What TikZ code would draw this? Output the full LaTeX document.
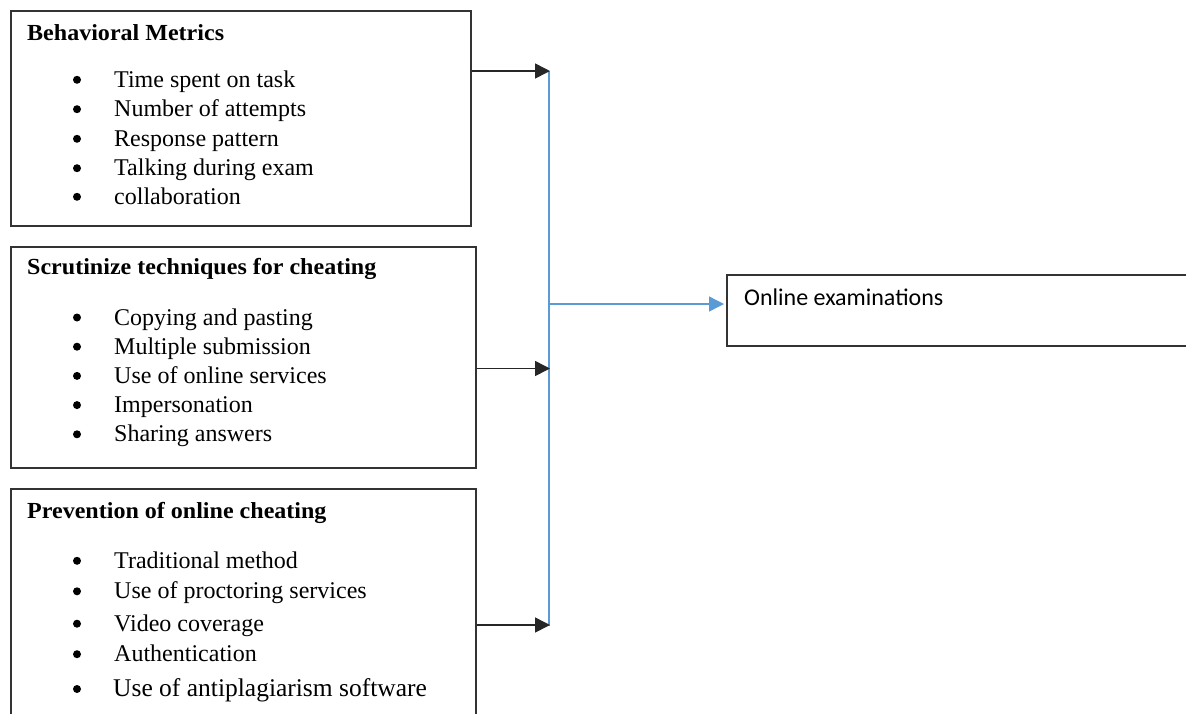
\documentclass[tikz,border=0pt]{standalone}
\usepackage{fontspec}
\setmainfont{Liberation Serif}
\newfontfamily\headfont{Liberation Serif Bold}[FakeStretch=1.045]
\newfontfamily\calibrifont{Carlito}
\usetikzlibrary{arrows.meta}
\definecolor{busblue}{RGB}{91,155,213}
\tikzstyle{box} = [draw=black!80, line width=1.5pt, anchor=north west, inner sep=0pt]
\tikzstyle{head} = [anchor=base west, inner sep=0pt, font=\headfont\fontsize{23}{27}\selectfont]
\tikzstyle{item} = [anchor=base west, inner sep=0pt, font=\fontsize{24}{28}\selectfont]
\tikzstyle{feed} = [line width=1.6pt, black!85, -{Triangle[length=15pt,width=15pt]}]
\tikzstyle{bus} = [line width=1.4pt, busblue]

\begin{document}
\begin{tikzpicture}[x=1pt,y=-1pt]
\useasboundingbox (0,0) rectangle (1186,713);

% the three input boxes
\node[box, minimum width=460pt, minimum height=215pt] (metrics) at (10,10) {};
\node[box, minimum width=465pt, minimum height=221pt] (scrutiny) at (10,246) {};
\node[box, minimum width=465pt, minimum height=245pt] (prevent) at (10,488) {};
% output box
\node[box, minimum width=480pt, minimum height=71pt] (exam) at (726,274) {};

\node[head] (metrics-head) at (27,40) {Behavioral Metrics};
\foreach \txt/\yy [count=\i] in {Time spent on task/87.3, Number of attempts/116.7,
    Response pattern/146.3, Talking during exam/175.7, collaboration/204.3} {
    \fill (77,\yy-7.5) circle[radius=4pt];
    \node[item] (metrics-\i) at (114,\yy) {\txt};
}

\node[head] (scrutiny-head) at (27,274) {Scrutinize techniques for cheating};
\foreach \txt/\yy [count=\i] in {Copying and pasting/325, Multiple submission/354.2,
    Use of online services/383.4, Impersonation/412.6, Sharing answers/441.8} {
    \fill (77,\yy-7.5) circle[radius=4pt];
    \node[item] (scrutiny-\i) at (114,\yy) {\txt};
}

\node[head] (prevent-head) at (27,518) {Prevention of online cheating};
\foreach \txt/\yy [count=\i] in {Traditional method/568.3, Use of proctoring services/598.8,
    Video coverage/631.2, Authentication/661.7} {
    \fill (77,\yy-7.5) circle[radius=4pt];
    \node[item] (prevent-\i) at (114,\yy) {\txt};
}
\fill (77,689) circle[radius=4pt];
\node[item, font=\fontsize{25.5}{29}\selectfont] (prevent-5) at (113,696.7)
    {Use of antiplagiarism software};

\node[anchor=base west, inner sep=0pt, font=\calibrifont\fontsize{24}{28}\selectfont]
    (exam-text) at (744,305) {Online examinations};

% junctions on the blue line
\coordinate (j1) at (550,71);
\coordinate (j2) at (550,368.5);
\coordinate (j3) at (550,625);
\coordinate (jo) at (549,304);

\draw[bus] ([xshift=-1pt]j1) -- ([xshift=-1pt,yshift=-1pt]j3);
\draw[feed] (metrics.east |- j1) -- (j1);
\draw[feed] (scrutiny.east |- j2) -- (j2);
\draw[feed] (prevent.east |- j3) -- (j3);
\draw[bus, -{Triangle[length=15pt,width=15pt]}] (jo) -- ([xshift=-2pt]exam.west |- jo);
\end{tikzpicture}
\end{document}
